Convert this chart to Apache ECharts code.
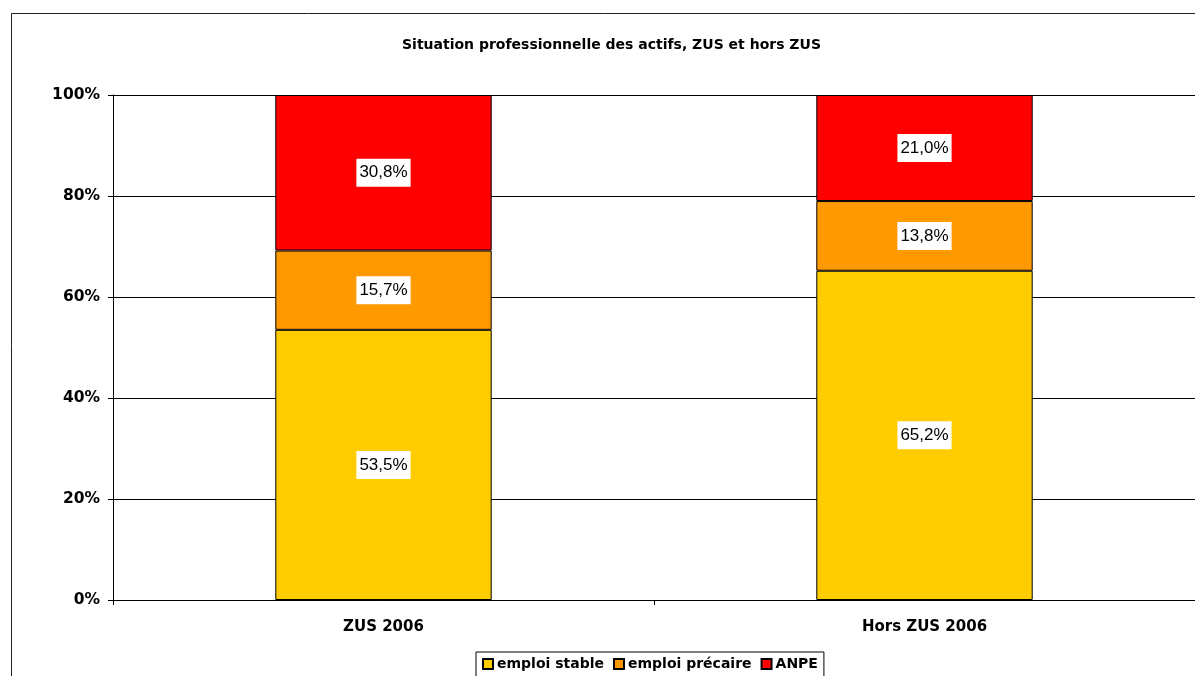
<!DOCTYPE html>
<html>
<head>
<meta charset="utf-8">
<script src="https://cdn.jsdelivr.net/npm/echarts@6/dist/echarts.min.js"></script>
<style>
  html, body { margin: 0; padding: 0; background: #fff; }
  #chart { width: 1195px; height: 676px; }
</style>
</head>
<body>
<div id="chart"></div>
<script>
// données
const categories = ['ZUS 2006', 'Hors ZUS 2006'];
const emploiStable = [53.5, 65.2];
const emploiPrecaire = [15.7, 13.8];
const anpe = [30.8, 21.0];
const yTicks = [0, 20, 40, 60, 80, 100];

const font = 'DejaVu Sans, Verdana, sans-serif';

function makeSeries(name, data, color) {
  return {
    name: name,
    type: 'bar',
    stack: 'total',
    barWidth: '40%',
    data: data,
    itemStyle: { color: color, borderColor: '#000', borderWidth: 1 },
    label: {
      show: true,
      position: 'inside',
      formatter: p => p.value.toFixed(1).replace('.', ',') + '%',
      backgroundColor: '#fff',
      padding: [6, 3, 5, 3],
      color: '#000',
      fontSize: 17,
      fontFamily: 'Liberation Sans, Arial, sans-serif'
    }
  };
}

const chart = echarts.init(document.getElementById('chart'));
const option = {
  animation: false,
  title: {
    text: 'Situation professionnelle des actifs, ZUS et hors ZUS',
    left: 397,
    top: 33,
    textStyle: { fontSize: 14, fontWeight: 'bold', color: '#000', fontFamily: font }
  },
  graphic: [{
    type: 'rect',
    shape: { x: 11.5, y: 13.5, width: 1300, height: 800 },
    style: { fill: 'none', stroke: '#222', lineWidth: 1 },
    silent: true
  }],
  legend: {
    left: 476,
    top: 652,
    padding: [5, 6, 8, 6],
    borderColor: '#000',
    borderWidth: 1,
    itemWidth: 10,
    itemHeight: 10,
    itemGap: 9,
    icon: 'rect',
    textStyle: { fontSize: 14, fontWeight: 'bold', color: '#000', fontFamily: font, padding: [0, 0, 0, -1] }
  },
  grid: { left: 113, right: 0, top: 95, bottom: 76 },
  xAxis: {
    type: 'category',
    data: categories,
    axisLine: { lineStyle: { color: '#000', width: 1 } },
    axisTick: { show: true, length: 5, lineStyle: { color: '#000' } },
    axisLabel: { margin: 20, fontSize: 15, fontWeight: 'bold', color: '#000', fontFamily: font }
  },
  yAxis: {
    type: 'value',
    min: 0,
    max: 100,
    interval: 20,
    axisLine: { show: true, lineStyle: { color: '#000', width: 1 } },
    axisTick: { show: true, length: 5, lineStyle: { color: '#000' } },
    splitLine: { lineStyle: { color: '#000', width: 1 } },
    axisLabel: {
      margin: 13,
      fontSize: 15.5,
      fontWeight: 'bold',
      color: '#000',
      fontFamily: font,
      formatter: v => yTicks.includes(v) ? v + '%' : ''
    }
  },
  series: [
    makeSeries('emploi stable', emploiStable, '#FFCC00'),
    makeSeries('emploi précaire', emploiPrecaire, '#FF9900'),
    makeSeries('ANPE', anpe, '#FF0000')
  ]
};
chart.setOption(option);
</script>
</body>
</html>
